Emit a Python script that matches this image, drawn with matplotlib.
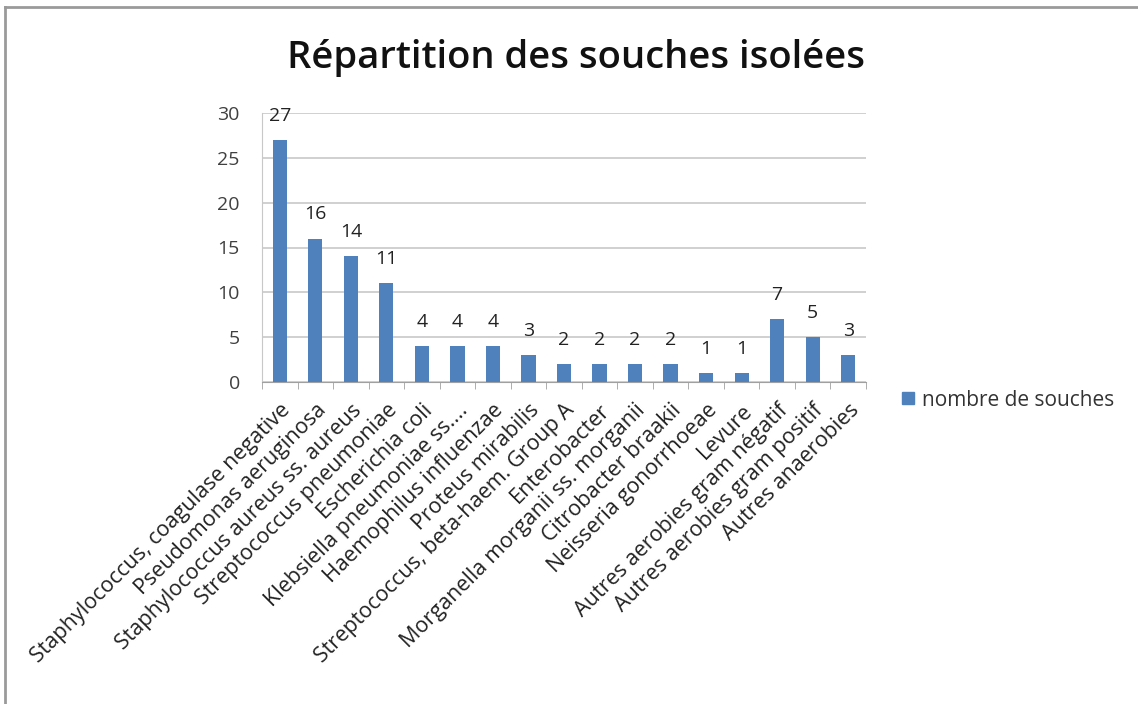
import matplotlib
matplotlib.use("Agg")
import matplotlib.pyplot as plt
from matplotlib.lines import Line2D

categories = [
    "Staphylococcus, coagulase negative",
    "Pseudomonas aeruginosa",
    "Staphylococcus aureus ss. aureus",
    "Streptococcus pneumoniae",
    "Escherichia coli",
    "Klebsiella pneumoniae ss....",
    "Haemophilus influenzae",
    "Proteus mirabilis",
    "Streptococcus, beta-haem. Group A",
    "Enterobacter",
    "Morganella morganii ss. morganii",
    "Citrobacter braakii",
    "Neisseria gonorrhoeae",
    "Levure",
    "Autres aerobies gram négatif",
    "Autres aerobies gram positif",
    "Autres anaerobies",
]
values = [27, 16, 14, 11, 4, 4, 4, 3, 2, 2, 2, 2, 1, 1, 7, 5, 3]
series_name = "nombre de souches"
title = "Répartition des souches isolées"
yticks = [0, 5, 10, 15, 20, 25, 30]

plt.rcParams['font.family'] = ['Open Sans', 'DejaVu Sans']

W, H = 1138, 704
fig = plt.figure(figsize=(W / 100, H / 100), dpi=100)
ax = fig.add_axes([262 / W, 1 - 382 / H, (866 - 262) / W, (382 - 113) / H])

x = list(range(len(categories)))
bar_color = "#4F81BD"
ax.bar(x, values, width=0.4, color=bar_color, zorder=3, label=series_name)

for xi, v in zip(x, values):
    ax.annotate(str(v), (xi, v), xytext=(0, 11), textcoords="offset points",
                ha="center", va="bottom", fontsize=14, color="#222222")

ax.set_xlim(-0.5, len(categories) - 0.5)
ax.set_ylim(0, 30)
ax.set_yticks(yticks)
ax.set_yticklabels([str(t) for t in yticks], fontsize=14, color="#404040")
ax.yaxis.grid(True, color="#C8C8C8", linewidth=1.2, zorder=0)
ax.tick_params(axis="y", length=0, pad=16)

ax.set_xticks(x)
ax.set_xticklabels(categories, rotation=45, ha="right", rotation_mode="anchor",
                   fontsize=15.5, color="#222222")
ax.tick_params(axis="x", which="major", length=0, pad=13)
ax.set_xticks([i + 0.5 for i in range(-1, len(categories))], minor=True)
ax.tick_params(axis="x", which="minor", length=5, color="#A0A0A0", direction="out")

for s in ["top", "right"]:
    ax.spines[s].set_visible(False)
ax.spines["left"].set_color("#C8C8C8")
ax.spines["bottom"].set_color("#A0A0A0")

fig.text(576 / W, 1 - 58 / H, title, ha="center", va="center",
         fontsize=27.5, fontweight="semibold", color="#111111")

handles = [Line2D([0], [0], marker="s", linestyle="none", markersize=9,
                  markerfacecolor=bar_color, markeredgecolor=bar_color)]
fig.legend(handles, [series_name], loc="center left",
           bbox_to_anchor=(874 / W, 1 - 400 / H), frameon=False,
           fontsize=15, handletextpad=-0.1, handlelength=1.5,
           labelcolor="#333333")

# outer frame (left and top)
fig.add_artist(Line2D([5 / W, 5 / W], [0, 1 - 7 / H], transform=fig.transFigure,
                      color="#9A9A9A", linewidth=2))
fig.add_artist(Line2D([5 / W, 1], [1 - 7 / H, 1 - 7 / H], transform=fig.transFigure,
                      color="#9A9A9A", linewidth=2))

fig.savefig("out.png", dpi=100)
